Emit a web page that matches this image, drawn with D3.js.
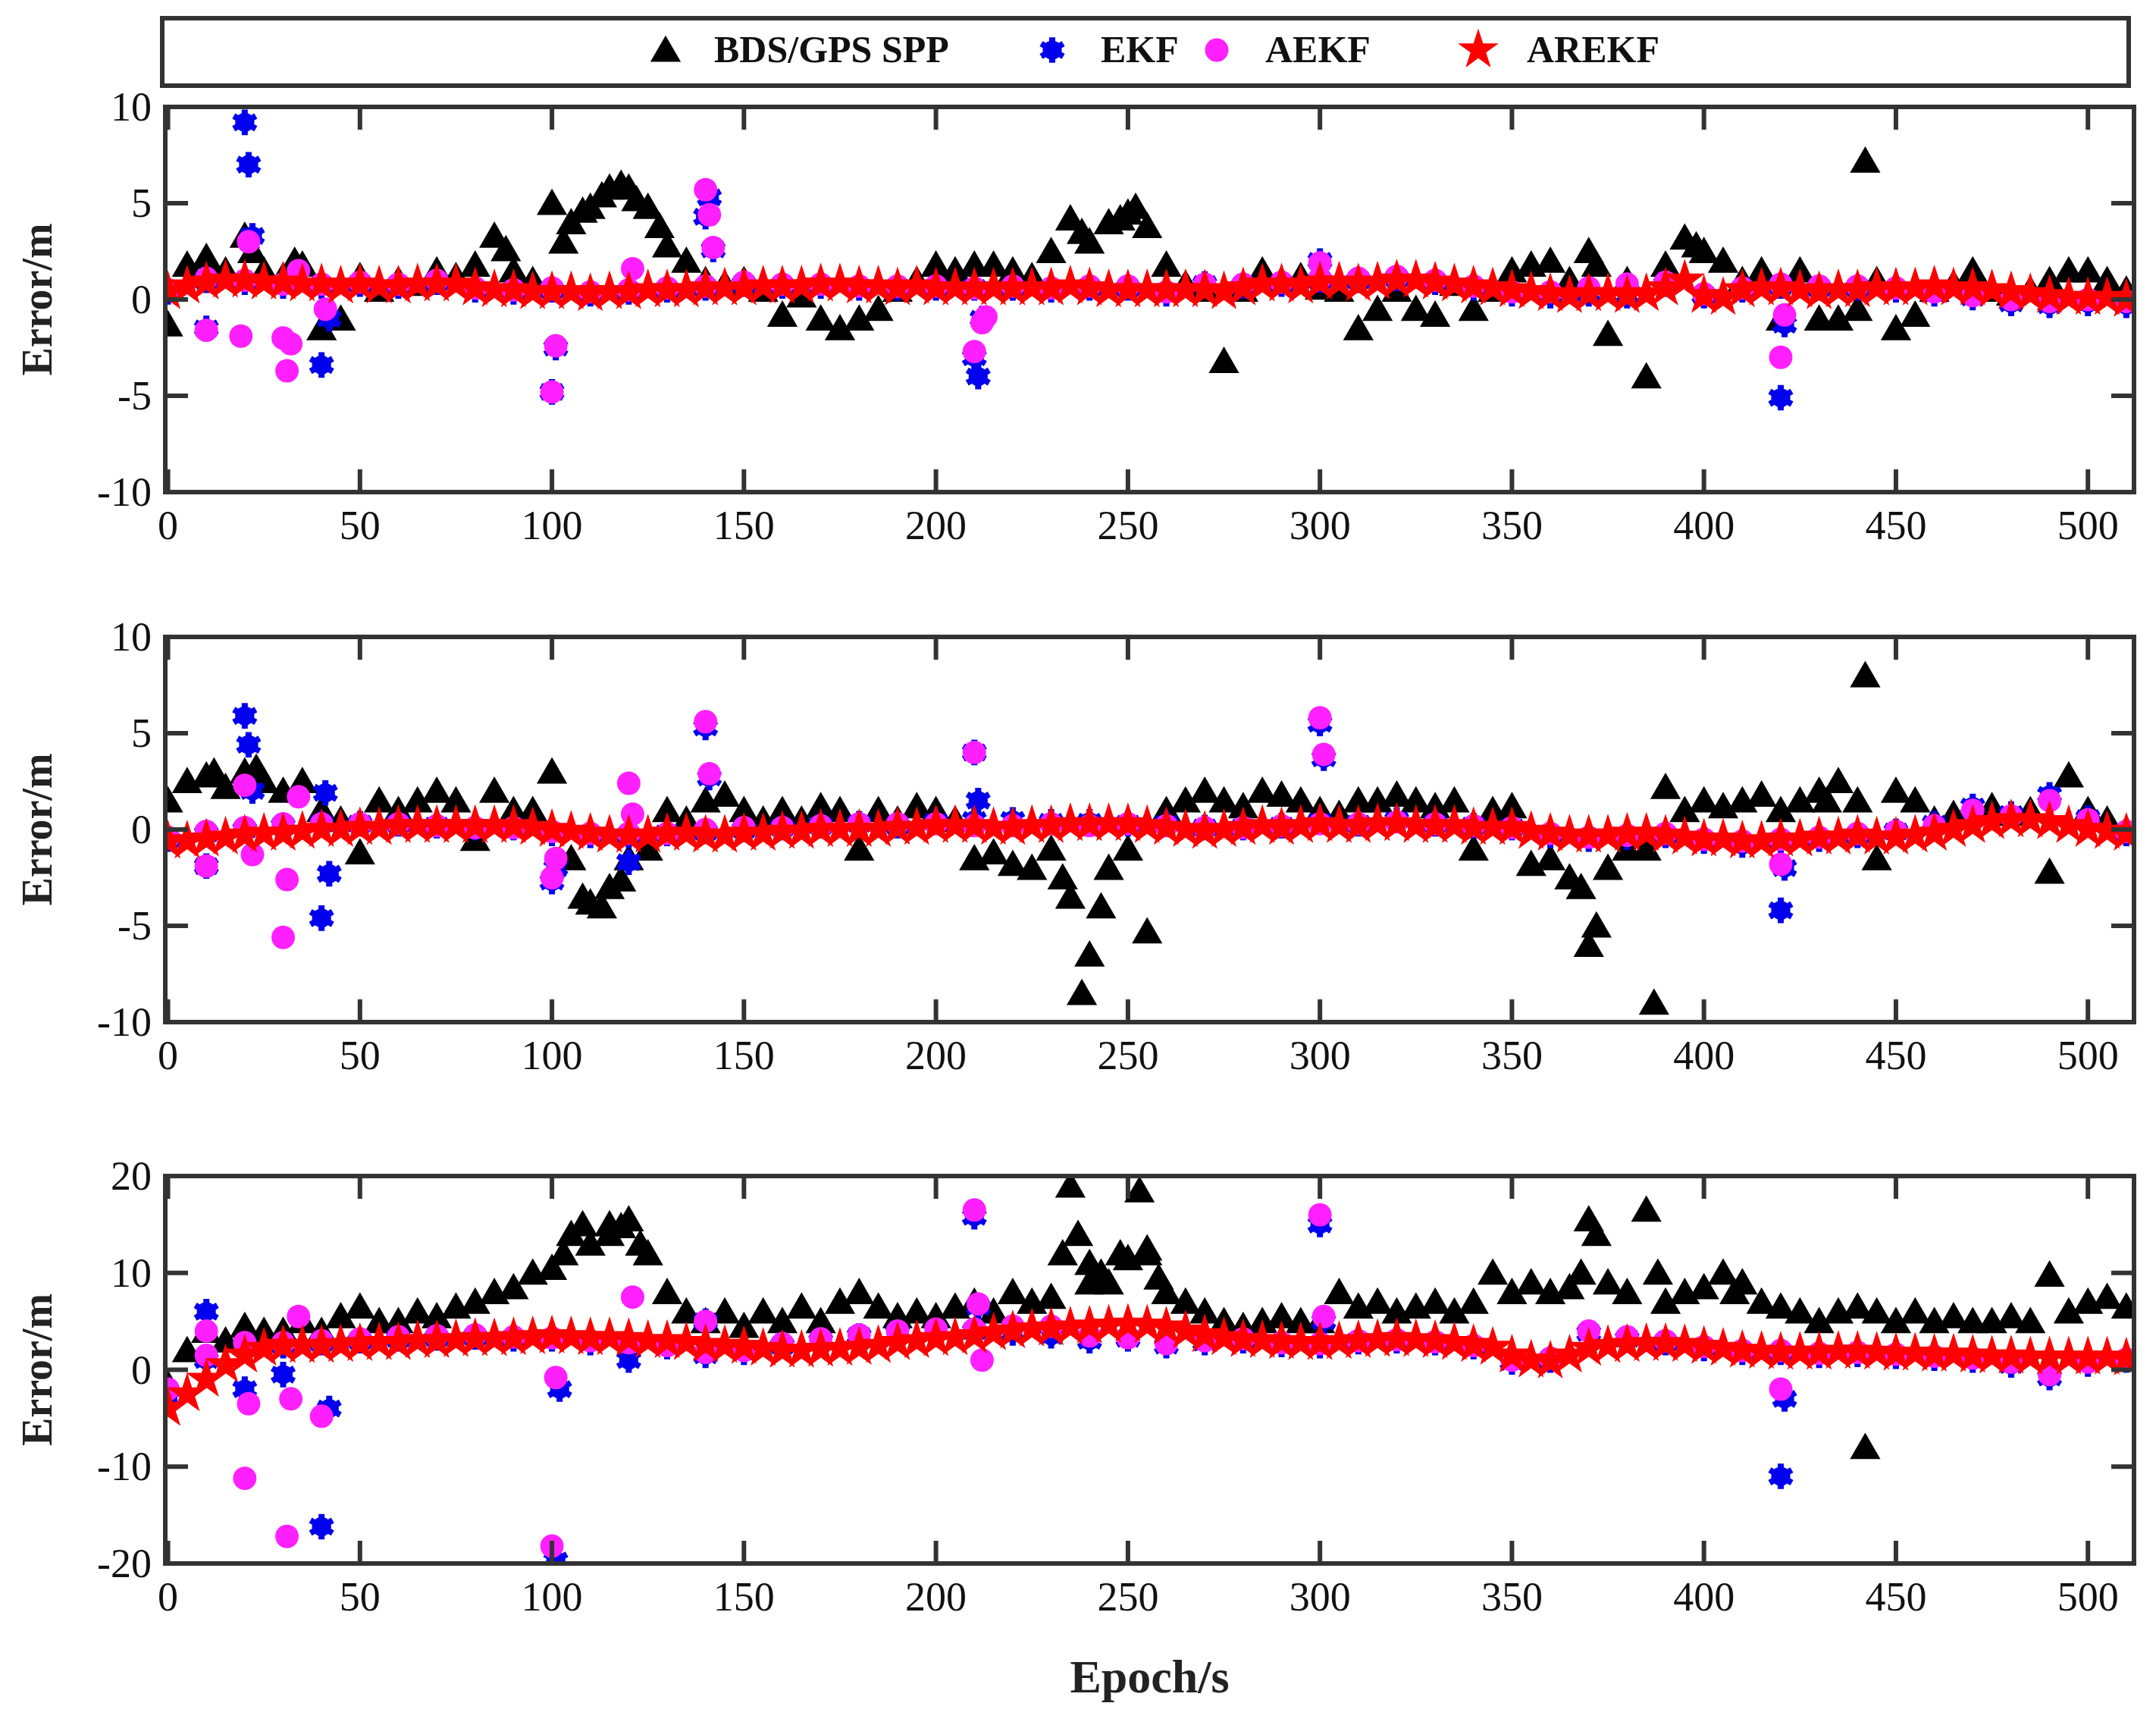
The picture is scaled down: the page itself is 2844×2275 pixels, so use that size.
<!DOCTYPE html>
<html><head><meta charset="utf-8">
<script src="https://cdn.jsdelivr.net/npm/d3@7/dist/d3.min.js"></script>
<style>body{margin:0;background:#fff}</style></head>
<body><svg id="c" width="2844" height="2275"></svg>
<script>
const seriesNames = ["BDS/GPS SPP","EKF","AEKF","AREKF"];
const xTicks = [0,50,100,150,200,250,300,350,400,450,500];
const yTicks = [[-10,-5,0,5,10],[-10,-5,0,5,10],[-20,-10,0,10,20]];
const yDomains = [[-10,10],[-10,10],[-20,20]];

// SPP sampled every 5 epochs
const spp1 = [-1.3,1.8,2.2,1.5,3.3,1.5,1.2,1.8,-1.5,-1,1.2,0.5,1,0.8,1.5,1.2,1.8,3.3,1.5,1,5,4,4.8,5.8,5.8,4.8,2.8,2,1,0.8,1,0.5,-0.8,0.2,-1,-1.5,-1,-0.5,0.5,1,1.8,1.5,1.8,1.8,1.5,1.2,2.5,4.2,3,4,4.5,3.8,1.8,0.8,0.5,-3.2,0.5,1.5,1,1.2,0.6,0.5,-1.5,-0.5,0.5,-0.5,-0.8,0.8,-0.5,0.5,1.5,1.8,2,1,2.5,-1.8,1,-4,1.8,3.2,2.5,2,1,1.5,-1,1.5,-1,-1,-0.5,1,-1.5,-0.8,0.5,0.8,1.5,0.5,0.3,0.5,1,1.5,1.5,1,0.5];
const spp2 = [1.5,2.5,2.8,2.2,3,2.5,2,2.5,1,0.5,-1.2,1.5,1,1.5,2,1.5,-0.5,2,1,1,3,-1.5,-3.8,-3,-1.5,-1,1,0.5,1.5,1.8,1,0.5,1,0.5,1.2,1,-1,1,0.5,1.2,1,0.5,-1.5,-1.2,-1.8,-2,-1,-3.5,-6.5,-2,-1,-5.3,1,1.5,2,1.5,1.2,2,1.8,1.5,1,0.8,1.5,1.5,1.8,1.5,1.2,1.5,-1,1,1.2,-1.8,-1.5,-2.5,-6,-2,-1,-1,2.2,1,1.5,1.2,1.5,1.8,1,1.5,2,2.5,1.5,-1.5,2,1.5,0.5,0.8,1,1.2,0.8,1,-2.2,2.8,1,0.5,0];
const spp3 = [-1.5,2,4,3,4.5,4,4,5,4,5.5,6.5,5,5,6,5.5,6.5,7,8,8.5,10,10.5,14,13,15,15.5,12,8,6,5,6,4.5,6,5,6.5,5,7,8,6.5,5.5,6,5.5,6.5,7,6,8,7,7.5,19,11,9,11.5,12,8,7,6,5,4.5,5,5.5,5,5,8,6.5,7,6,6.5,7,6,7,10,8,9,8,8.5,15.5,9,8,16.5,7,8,8.5,10,9,7,6.5,6,5,6,6.5,6,5,6,5,5.5,5,5,5.5,5,9.8,6,7,7.5,6.5];
const sppOut = [
  [[442,7.2],[118,6],[252,4.8],[12,1.2],[33,2],[88,2.6],[103,3],[108,4.6],[113,5.4],[122,5.2],[128,3.8],[238,3.5],[248,4.2],[398,2.8],[22,2.5],[372,1.8]],
  [[238,-8.5],[372,-5],[387,-9],[442,8],[113,-4],[12,3],[23,3.2],[108,-3.5],[118,-2.6],[233,-2.5],[243,-4],[368,-3],[432,1.5]],
  [[237,14],[253,18.5],[255,12.5],[372,14],[442,-8],[115,14],[240,9],[103,12],[108,15],[118,14.8],[123,13],[233,12],[243,10],[248,12],[258,9.5],[368,10],[388,10],[408,8]]
];
// AREKF sampled every 5 epochs
const ar1 = [0.4,0.7,0.9,1.0,1.0,0.9,0.9,0.8,0.8,0.7,0.8,0.7,0.7,0.8,0.8,0.8,0.6,0.5,0.5,0.4,0.4,0.4,0.3,0.4,0.4,0.5,0.5,0.5,0.6,0.6,0.6,0.7,0.7,0.7,0.8,0.8,0.7,0.7,0.6,0.7,0.6,0.6,0.6,0.6,0.6,0.6,0.6,0.7,0.6,0.5,0.5,0.5,0.5,0.5,0.5,0.4,0.6,0.8,0.8,0.7,0.9,0.9,0.8,0.9,1.0,1.0,0.9,0.8,0.7,0.6,0.5,0.4,0.3,0.2,0.3,0.3,0.2,0.3,0.6,1.0,0.2,0.1,0.5,0.6,0.6,0.5,0.4,0.5,0.5,0.6,0.6,0.6,0.7,0.6,0.6,0.5,0.4,0.3,0.2,0.1,0.1,0.1,0.0];
const ar2 = [-0.6,-0.6,-0.5,-0.4,-0.3,-0.2,-0.2,-0.1,0,0,0.1,0.1,0.2,0.2,0.2,0.2,0.2,0.2,0.2,0.1,0,-0.1,-0.2,-0.3,-0.3,-0.3,-0.2,-0.2,-0.3,-0.3,-0.2,-0.2,-0.1,-0.1,0,0,0,0,0.1,0.1,0.2,0.2,0.2,0.1,0.1,0.2,0.2,0.3,0.3,0.3,0.3,0.2,0.1,0,-0.1,0,0.1,0.2,0.1,0.2,0.3,0.2,0.2,0.3,0.3,0.2,0.2,0.2,0.1,0.1,0.1,-0.1,-0.2,-0.3,-0.3,-0.3,-0.2,-0.2,-0.3,-0.4,-0.5,-0.5,-0.6,-0.6,-0.5,-0.5,-0.4,-0.4,-0.3,-0.4,-0.4,-0.3,-0.2,0,0.2,0.4,0.5,0.5,0.4,0.2,0,-0.1,-0.2];
const ar3 = [-4,-2.5,-1,0.5,1.5,2.2,2.5,2.5,2.5,2.6,2.7,2.8,2.8,3,3,3.1,3.2,3.2,3.3,3.4,3.5,3.4,3.3,3.3,3.2,3.0,3.0,2.8,2.6,2.5,2.4,2.2,2.0,2.0,2.1,2.2,2.3,2.5,2.8,3.0,3.2,3.3,3.5,3.8,4.0,4.2,4.3,4.4,4.5,4.6,4.7,4.6,4.4,4.0,3.6,3.3,3.1,3.0,2.9,2.8,2.8,2.9,3.0,3.1,3.2,3.1,3.0,2.8,2.6,2.3,1.5,1.0,0.9,1.5,2.2,2.5,2.6,2.7,2.7,2.6,2.4,2.2,2.0,1.9,1.8,1.8,1.8,1.9,1.9,1.8,1.7,1.7,1.6,1.6,1.5,1.4,1.4,1.3,1.3,1.3,1.3,1.3,1.2];
// EKF / AEKF sampled every 10 epochs
const ekf1 = [0.4,1.0,0.9,0.7,0.7,0.8,0.7,0.9,0.5,0.4,0.5,0.3,0.4,0.5,0.6,0.8,0.7,0.7,0.6,0.6,0.6,0.6,0.6,0.5,0.6,0.6,0.3,0.8,0.7,0.8,1.0,1.0,1.1,0.9,0.6,0.3,0.2,0.3,0.2,0.8,0.2,0.5,0.7,0.6,0.6,0.5,0.3,0.1,-0.2,-0.3,-0.2,-0.3];
const aekf1 = [0.5,1.1,1.0,0.8,0.8,0.9,0.8,1.0,0.6,0.5,0.6,0.4,0.5,0.6,0.7,0.9,0.8,0.8,0.7,0.7,0.7,0.6,0.7,0.6,0.7,0.7,0.4,0.8,0.8,0.9,1.1,1.1,1.2,1.0,0.7,0.4,0.4,0.6,0.8,0.9,0.3,0.6,0.8,0.7,0.7,0.6,0.4,0.2,0.0,-0.1,0.0,-0.1];
const ekf2 = [-0.5,-0.2,0,0.2,0.3,0.3,0.3,0.2,0.1,0.1,-0.2,-0.3,-0.3,-0.2,-0.1,0,0.1,0.2,0.3,0.2,0.4,0.5,0.5,0.4,0.4,0.3,0.3,0.1,0.1,0.2,0.4,0.3,0.5,0.3,0.2,0.1,-0.3,-0.5,-0.4,-0.3,-0.6,-0.8,-0.6,-0.5,-0.3,-0.1,0.3,1.2,0.8,1.8,0.6,-0.2];
const aekf2 = [-0.4,-0.1,0.1,0.3,0.3,0.3,0.3,0.2,0.1,0.1,-0.1,-0.2,-0.2,-0.2,0,0.1,0.1,0.2,0.3,0.3,0.3,0.2,0.2,0.3,0.2,0.3,0.2,0.1,0.1,0.2,0.3,0.3,0.4,0.3,0.2,0.1,-0.2,-0.4,-0.3,-0.2,-0.5,-0.6,-0.5,-0.4,-0.2,-0.1,0.2,1.0,0.7,1.5,0.5,-0.1];
const ekf3 = [-3,1,2.5,2.5,2.8,3,3.2,3.3,3.4,3.2,3.2,2.8,2.7,2.4,1.5,1.8,2.5,3,3.5,3.8,4,4,3.8,3.5,3.0,3.2,2.5,2.8,3.0,2.6,2.5,2.9,3.0,2.8,2.4,0.8,1.0,3.8,3.2,2.8,2.2,1.8,1.8,1.5,1.6,1.4,1.2,1.0,0.5,-0.8,0.6,1.0];
const aekf3 = [-2,1.5,2.8,2.8,3,3.2,3.4,3.5,3.6,3.4,3.3,3.0,2.8,2.5,1.8,2,2.7,3.2,3.6,4,4.2,4.2,4.5,4.5,3.5,3.3,2.7,3,3.2,2.8,2.7,3,3.1,2.9,2.5,1.0,1.2,4.0,3.4,3.0,2.4,2.0,2.0,1.7,1.8,1.6,1.4,1.2,0.8,-0.5,0.8,1.1];
const ekfOut = [
  [[10,-1.5],[20,9.2],[21,7],[22,3.3],[40,-3.4],[42,-1],[100,-4.8],[101,-2.5],[140,4.3],[141,5.3],[142,2.6],[210,-3],[211,-4],[212,-1],[300,2],[420,-5.1],[421,-1.3]],
  [[10,-1.9],[20,5.9],[21,4.4],[22,2],[40,-4.6],[42,-2.3],[41,1.9],[100,-2.7],[101,-2],[120,-1.7],[140,5.3],[141,2.7],[210,4],[211,1.5],[300,5.5],[301,3.7],[420,-4.2],[421,-2]],
  [[10,6],[20,-2],[30,-0.5],[40,-16.2],[42,-4],[101,-19.7],[102,-2],[120,1],[140,5],[210,15.8],[211,6.5],[300,15],[301,5],[420,-11],[421,-3]]
];
const aekfOut = [
  [[10,-1.6],[19,-1.9],[21,3],[30,-2],[31,-3.7],[32,-2.3],[34,1.5],[41,-0.5],[100,-4.8],[101,-2.4],[121,1.6],[140,5.7],[141,4.4],[142,2.7],[210,-2.7],[212,-1.2],[213,-0.9],[300,1.9],[420,-3],[421,-0.8]],
  [[10,-1.9],[20,2.3],[22,-1.3],[30,-5.6],[31,-2.6],[34,1.7],[100,-2.5],[101,-1.5],[120,2.4],[121,0.8],[140,5.6],[141,2.9],[210,4],[300,5.8],[301,3.9],[420,-1.8]],
  [[10,4],[20,-11.2],[21,-3.5],[31,-17.2],[32,-3],[34,5.5],[40,-4.8],[100,-18.2],[101,-0.8],[121,7.5],[140,5],[210,16.5],[211,6.8],[212,1],[300,16],[301,5.5],[420,-2]]
];

const panels = [
  {spp:spp1, ekf:ekf1, aekf:aekf1, ar:ar1},
  {spp:spp2, ekf:ekf2, aekf:aekf2, ar:ar2},
  {spp:spp3, ekf:ekf3, aekf:aekf3, ar:ar3}
];
const tops = [141, 840, 1551], bots = [649, 1348, 2062];
const L = 218, R = 2815;
const svg = d3.select("#c");
const font = "'Liberation Serif', 'DejaVu Serif', serif";
const axisCol = "#333";

const tri = d3.symbol().type(d3.symbolTriangle).size(700);
const circ = d3.symbol().type(d3.symbolCircle).size(750);
const star = d3.symbol().type(d3.symbolStar).size(900);
const ast = d3.symbol().type(d3.symbolAsterisk).size(800);
const astC = d3.symbol().type(d3.symbolCircle).size(500);

function drawMarker(g, kind, x, y) {
  if (kind===0) g.append("path").attr("d", tri()).attr("transform",`translate(${x},${y+4})`).attr("fill","#000");
  else if (kind===1) {
    g.append("path").attr("d", astC()).attr("transform",`translate(${x},${y})`).attr("fill","#0000ee");
    g.append("path").attr("d", ast()).attr("transform",`translate(${x},${y})`).attr("fill","none").attr("stroke","#0000ee").attr("stroke-width",8);
  }
  else if (kind===2) g.append("path").attr("d", circ()).attr("transform",`translate(${x},${y})`).attr("fill","#ff1fff");
  else g.append("path").attr("d", star()).attr("transform",`translate(${x},${y})`).attr("fill","#ff0000");
}

const x = d3.scaleLinear().domain([-0.7,512]).range([L,R]);

panels.forEach((p,i) => {
  const y = d3.scaleLinear().domain(yDomains[i]).range([bots[i],tops[i]]);
  const g = svg.append("g");
  const cp = "clip"+i;
  svg.append("clipPath").attr("id",cp).append("rect").attr("x",L).attr("y",tops[i]).attr("width",R-L).attr("height",bots[i]-tops[i]);
  const m = g.append("g").attr("clip-path",`url(#${cp})`);
  const pts = (arr, step) => arr.map((v,k)=>[k*step, v]);
  pts(p.spp,5).concat(sppOut[i]).forEach(d=>drawMarker(m,0,x(d[0]),y(d[1])));
  pts(p.ekf,10).concat(ekfOut[i]).forEach(d=>drawMarker(m,1,x(d[0]),y(d[1])));
  pts(p.aekf,10).concat(aekfOut[i]).forEach(d=>drawMarker(m,2,x(d[0]),y(d[1])));
  pts(p.ar,5).forEach(d=>drawMarker(m,3,x(d[0]),y(d[1])));

  g.append("rect").attr("x",L).attr("y",tops[i]).attr("width",R-L).attr("height",bots[i]-tops[i])
    .attr("fill","none").attr("stroke",axisCol).attr("stroke-width",6);
  xTicks.forEach(t=>{
    g.append("line").attr("x1",x(t)).attr("x2",x(t)).attr("y1",bots[i]).attr("y2",bots[i]-30).attr("stroke",axisCol).attr("stroke-width",6);
    g.append("line").attr("x1",x(t)).attr("x2",x(t)).attr("y1",tops[i]).attr("y2",tops[i]+30).attr("stroke",axisCol).attr("stroke-width",6);
    g.append("text").attr("x",x(t)).attr("y",bots[i]+62).attr("text-anchor","middle")
      .attr("font-family",font).attr("font-size",54).attr("fill","#111").text(t);
  });
  yTicks[i].forEach(t=>{
    g.append("line").attr("x1",L).attr("x2",L+30).attr("y1",y(t)).attr("y2",y(t)).attr("stroke",axisCol).attr("stroke-width",6);
    g.append("line").attr("x1",R).attr("x2",R-30).attr("y1",y(t)).attr("y2",y(t)).attr("stroke",axisCol).attr("stroke-width",6);
    g.append("text").attr("x",L-18).attr("y",y(t)+18).attr("text-anchor","end")
      .attr("font-family",font).attr("font-size",54).attr("fill","#111").text(t);
  });
  g.append("text").attr("transform",`translate(68,${(tops[i]+bots[i])/2}) rotate(-90)`).attr("text-anchor","middle")
    .attr("font-family",font).attr("font-weight","bold").attr("font-size",56).attr("fill","#222").text("Error/m");
});

svg.append("text").attr("x",(L+R)/2).attr("y",2232).attr("text-anchor","middle")
  .attr("font-family",font).attr("font-weight","bold").attr("font-size",62).attr("fill","#222").text("Epoch/s");

const lg = svg.append("g");
lg.append("rect").attr("x",214).attr("y",24).attr("width",2594).attr("height",89).attr("fill","#fff").attr("stroke",axisCol).attr("stroke-width",6);
const lx = [878,1388,1605,1950];
seriesNames.forEach((n,k)=>{
  drawMarker(lg,k,lx[k],66);
  lg.append("text").attr("x",lx[k]+64).attr("y",82).attr("font-family",font).attr("font-weight","bold")
    .attr("font-size",50).attr("fill","#111").text(n);
});
</script></body></html>
